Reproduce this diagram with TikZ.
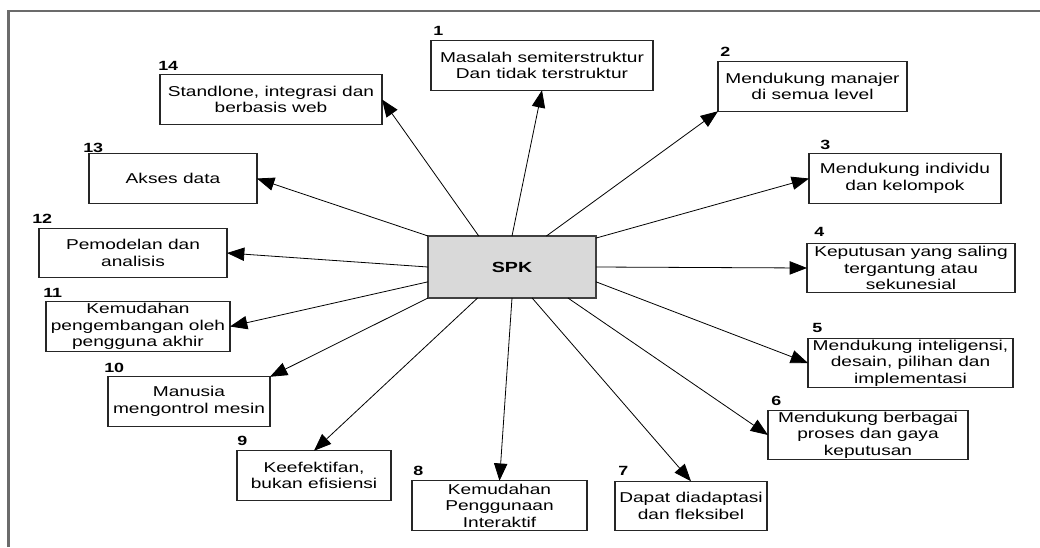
\documentclass[tikz,border=0pt]{standalone}
\usepackage{fontspec}
\setmainfont{Liberation Sans}[FakeStretch=1.34]
\usetikzlibrary{arrows.meta}
\begin{document}
\begin{tikzpicture}[x=0.75pt,y=-0.75pt,
  frame/.style={draw=black!58, line width=1.6pt},
  item/.style={draw=black!85, line width=0.9pt, fill=white, inner sep=0pt, outer sep=0pt,
    minimum height=37.1pt, align=center, font=\fontsize{10.7}{12.4}\selectfont},
  hub/.style={item, fill=black!15, draw=black!75, minimum width=126pt, minimum height=46.5pt,
    font=\fontsize{11}{12.4}\selectfont\bfseries},
  num/.style={anchor=west, inner sep=0pt, font=\fontsize{10}{11}\selectfont\bfseries},
  link/.style={-{Triangle[length=13pt,width=10pt]}, line width=0.6pt}]
\useasboundingbox (0,0) rectangle (1040,547);
% frame on the left and top
\draw[frame] (8.5,547) -- (8.5,11) -- (1040,11);

% central box
\node[hub] (spk) at (512,267) {SPK};

% characteristic boxes
\node[item, minimum width=166.5pt] (b1) at (542,65.5) {Masalah semiterstruktur\\Dan tidak terstruktur};
\node[item, minimum width=141.75pt] (b2) at (812.5,86.5) {Mendukung manajer\\di semua level};
\node[item, minimum width=144pt] (b3) at (905,178.5) {Mendukung individu\\dan kelompok};
\node[item, minimum width=156pt] (b4) at (911,268) {Keputusan yang saling\\tergantung atau\\sekunesial};
\node[item, minimum width=153.75pt] (b5) at (910.5,363) {Mendukung inteligensi,\\desain, pilihan dan\\implementasi};
\node[item, minimum width=150pt] (b6) at (868,435) {Mendukung berbagai\\proses dan gaya\\keputusan};
\node[item, minimum width=114pt] (b7) at (691,506) {Dapat diadaptasi\\dan fleksibel};
\node[item, minimum width=131.25pt] (b8) at (499.5,505.5) {Kemudahan\\Penggunaan\\Interaktif};
\node[item, minimum width=115.5pt] (b9) at (314,475.5) {Keefektifan,\\bukan efisiensi};
\node[item, minimum width=121.5pt] (b10) at (189,401.5) {Manusia\\mengontrol mesin};
\node[item, minimum width=138pt] (b11) at (138,326.5) {Kemudahan\\pengembangan oleh\\pengguna akhir};
\node[item, minimum width=141pt] (b12) at (133,253) {Pemodelan dan\\analisis};
\node[item, minimum width=126pt] (b13) at (173,178.5) {Akses data};
\node[item, minimum width=166.5pt] (b14) at (271,99.5) {Standlone, integrasi dan\\berbasis web};

% numbers
\node[num] (n1) at (433,31) {1};
\node[num] (n2) at (720,52) {2};
\node[num] (n3) at (820,145) {3};
\node[num] (n4) at (814,232) {4};
\node[num] (n5) at (812,328) {5};
\node[num] (n6) at (771,401) {6};
\node[num] (n7) at (618,471) {7};
\node[num] (n8) at (413,471) {8};
\node[num] (n9) at (237,441) {9};
\node[num] (n10) at (104,368) {10};
\node[num] (n11) at (43,293) {11};
\node[num] (n12) at (32,219) {12};
\node[num] (n13) at (83,148) {13};
\node[num] (n14) at (158,66) {14};

% connectors
\draw[link] (spk.90) -- (b1.south);
\draw[link] (spk.42.4) -- (b2.south west);
\draw[link] (spk.19) -- (b3.west);
\draw[link] (spk.0) -- (b4.west);
\draw[link] (spk.-10.8) -- (b5.west);
\draw[link] (spk.-29.9) -- (b6.west);
\draw[link] (spk.-57.2) -- (b7.north);
\draw[link] (spk.-90) -- (b8.north);
\draw[link] (spk.222.4) -- (b9.north);
\draw[link] (spk.south west) -- (b10.north east);
\draw[link] (spk.190.8) -- (b11.east);
\draw[link] (spk.180) -- (b12.east);
\draw[link] (spk.north west) -- (b13.east);
\draw[link] (spk.137.6) -- (b14.east);
\end{tikzpicture}
\end{document}
